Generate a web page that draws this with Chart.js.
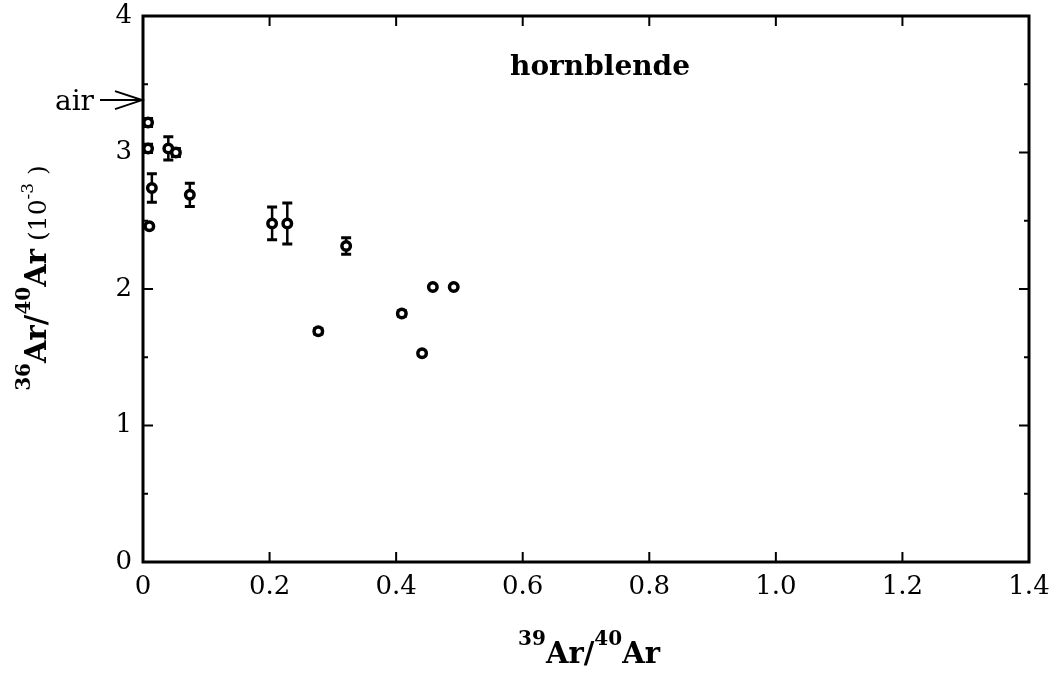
<!DOCTYPE html>
<html>
<head>
<meta charset="utf-8">
<script src="https://cdn.jsdelivr.net/npm/chart.js@4/dist/chart.umd.min.js"></script>
<style>
  html, body { margin: 0; padding: 0; background: #fff; }
  #wrap { width: 1062px; height: 674px; }
</style>
</head>
<body>
<div id="wrap"><canvas id="c"></canvas></div>
<script>
// 39Ar/40Ar vs 36Ar/40Ar (10^-3), hornblende steps
var xVals  = [0.008, 0.008, 0.040, 0.052, 0.014, 0.074, 0.010, 0.204, 0.228, 0.321, 0.277, 0.409, 0.458, 0.491, 0.441]
  , yVals  = [3.22,  3.03,  3.03,  3.00,  2.74,  2.69,  2.46,  2.48,  2.48,  2.315, 1.69,  1.82,  2.015, 2.015, 1.53]
  , yErr   = [0.03,  0.03,  0.085, 0.03,  0.105, 0.085, 0,     0.12,  0.15,  0.06,  0.02,  0.02,  0,     0,     0]
  , xTicks = [0, 0.2, 0.4, 0.6, 0.8, 1.0, 1.2, 1.4]
  , xTickLabels = ["0", "0.2", "0.4", "0.6", "0.8", "1.0", "1.2", "1.4"]
  , yTicks = [0, 1, 2, 3, 4]
  , yTickLabels = ["0", "1", "2", "3", "4"]
  , yMinor = [0.5, 1.5, 2.5, 3.5]
  , airValue = 3.384
  , sampleName = "hornblende"

var SERIF = "'DejaVu Serif', 'Liberation Serif', serif"

function font(size, bold) {
  return (bold ? "bold " : "") + size + "px " + SERIF
}

// draw a run of text pieces (some raised as superscripts) centred on x
function drawRich(ctx, parts, x, y) {
  var total = 0
  parts.forEach(function(p) {
    ctx.font = p.font
    p.w = ctx.measureText(p.text).width
    total += p.w
  })
  var cx = x - total / 2
  ctx.textAlign = "left"
  ctx.textBaseline = "alphabetic"
  parts.forEach(function(p) {
    ctx.font = p.font
    ctx.fillText(p.text, cx, y - (p.up || 0))
    cx += p.w
  })
}

var decor = {
  id: "decor",
  beforeDatasetsDraw: function(chart) {
    var ctx = chart.ctx, xs = chart.scales.x, ys = chart.scales.y
    ctx.save()
    ctx.strokeStyle = "#000"
    ctx.lineWidth = 2.5
    for (var i = 0; i < xVals.length; i++) {
      if (!yErr[i]) continue
      var px = xs.getPixelForValue(xVals[i])
        , lo = ys.getPixelForValue(yVals[i] - yErr[i])
        , hi = ys.getPixelForValue(yVals[i] + yErr[i])
      ctx.beginPath()
      ctx.moveTo(px, lo); ctx.lineTo(px, hi)
      ctx.stroke()
      ctx.lineWidth = 3
      ctx.beginPath()
      ctx.moveTo(px - 5, lo); ctx.lineTo(px + 5, lo)
      ctx.moveTo(px - 5, hi); ctx.lineTo(px + 5, hi)
      ctx.stroke()
      ctx.lineWidth = 2.5
    }
    ctx.restore()
  },
  afterDraw: function(chart) {
    var ctx = chart.ctx, a = chart.chartArea
      , xs = chart.scales.x, ys = chart.scales.y
    ctx.save()
    ctx.strokeStyle = "#000"
    ctx.fillStyle = "#000"

    // frame
    ctx.lineWidth = 3
    ctx.strokeRect(a.left, a.top, a.right - a.left, a.bottom - a.top)

    // inward ticks on all four sides
    ctx.lineWidth = 2
    ctx.beginPath()
    xTicks.forEach(function(v) {
      var p = xs.getPixelForValue(v)
      ctx.moveTo(p, a.bottom); ctx.lineTo(p, a.bottom - 10)
      ctx.moveTo(p, a.top);    ctx.lineTo(p, a.top + 10)
    })
    yTicks.forEach(function(v) {
      var p = ys.getPixelForValue(v)
      ctx.moveTo(a.left, p);  ctx.lineTo(a.left + 10, p)
      ctx.moveTo(a.right, p); ctx.lineTo(a.right - 10, p)
    })
    yMinor.forEach(function(v) {
      var p = ys.getPixelForValue(v)
      ctx.moveTo(a.left, p);  ctx.lineTo(a.left + 5, p)
      ctx.moveTo(a.right, p); ctx.lineTo(a.right - 5, p)
    })
    ctx.stroke()

    // air arrow
    var ay = ys.getPixelForValue(airValue)
    ctx.lineWidth = 2
    ctx.beginPath()
    ctx.moveTo(a.left - 43, ay); ctx.lineTo(a.left - 1, ay)
    ctx.moveTo(a.left - 28, ay - 9); ctx.lineTo(a.left - 1, ay)
    ctx.lineTo(a.left - 28, ay + 9)
    ctx.stroke()
    ctx.font = font(28, false)
    ctx.textAlign = "right"
    ctx.textBaseline = "alphabetic"
    ctx.fillText("air", a.left - 49, ay + 10)

    // sample name
    ctx.font = font(28, true)
    ctx.textAlign = "center"
    ctx.fillText(sampleName, 600, 75)

    // x axis title
    drawRich(ctx, [
      { text: "39",  font: font(20, true), up: 18 },
      { text: "Ar/", font: font(29, true) },
      { text: "40",  font: font(20, true), up: 18 },
      { text: "Ar",  font: font(29, true) }
    ], 589, 663)

    // y axis title
    ctx.translate(46, 278)
    ctx.rotate(-Math.PI / 2)
    drawRich(ctx, [
      { text: "36",   font: font(20, true), up: 16 },
      { text: "Ar/",  font: font(29, true) },
      { text: "40",   font: font(20, true), up: 16 },
      { text: "Ar",   font: font(29, true) },
      { text: " (10", font: font(25, false) },
      { text: "-3",   font: font(17, false), up: 13 },
      { text: " )",   font: font(25, false) }
    ], 0, 0)
    ctx.restore()
  }
}

new Chart(document.getElementById("c"), {
  type: "scatter",
  data: {
    datasets: [{
      data: xVals.map(function(x, i) { return {x: x, y: yVals[i]} }),
      pointRadius: 4.25,
      pointHoverRadius: 4.25,
      borderWidth: 3.5,
      borderColor: "#000",
      backgroundColor: "#fff"
    }]
  },
  options: {
    responsive: true,
    maintainAspectRatio: false,
    animation: false,
    events: [],
    layout: { padding: { top: 16, right: 33, left: 0, bottom: 0 } },
    plugins: { legend: { display: false }, tooltip: { enabled: false } },
    scales: {
      x: {
        type: "linear",
        min: 0, max: 1.4,
        afterFit: function(s) {
          s.height = 112
          s.paddingLeft = 0
          s.paddingRight = 0
        },
        afterBuildTicks: function(s) { s.ticks = xTicks.map(function(v) { return {value: v} }) },
        grid: { display: false, drawTicks: false },
        border: { display: false },
        ticks: {
          padding: 10,
          color: "#000",
          font: { family: SERIF, size: 26 },
          maxRotation: 0,
          autoSkip: false,
          callback: function(v, i) { return xTickLabels[i] }
        }
      },
      y: {
        type: "linear",
        min: 0, max: 4,
        afterFit: function(s) {
          s.width = 143
          s.paddingTop = 0
          s.paddingBottom = 0
        },
        afterBuildTicks: function(s) { s.ticks = yTicks.map(function(v) { return {value: v} }) },
        grid: { display: false, drawTicks: false },
        border: { display: false },
        ticks: {
          padding: 11,
          color: "#000",
          font: { family: SERIF, size: 26 },
          autoSkip: false,
          callback: function(v, i) { return yTickLabels[i] }
        }
      }
    }
  },
  plugins: [decor]
})
</script>
</body>
</html>
